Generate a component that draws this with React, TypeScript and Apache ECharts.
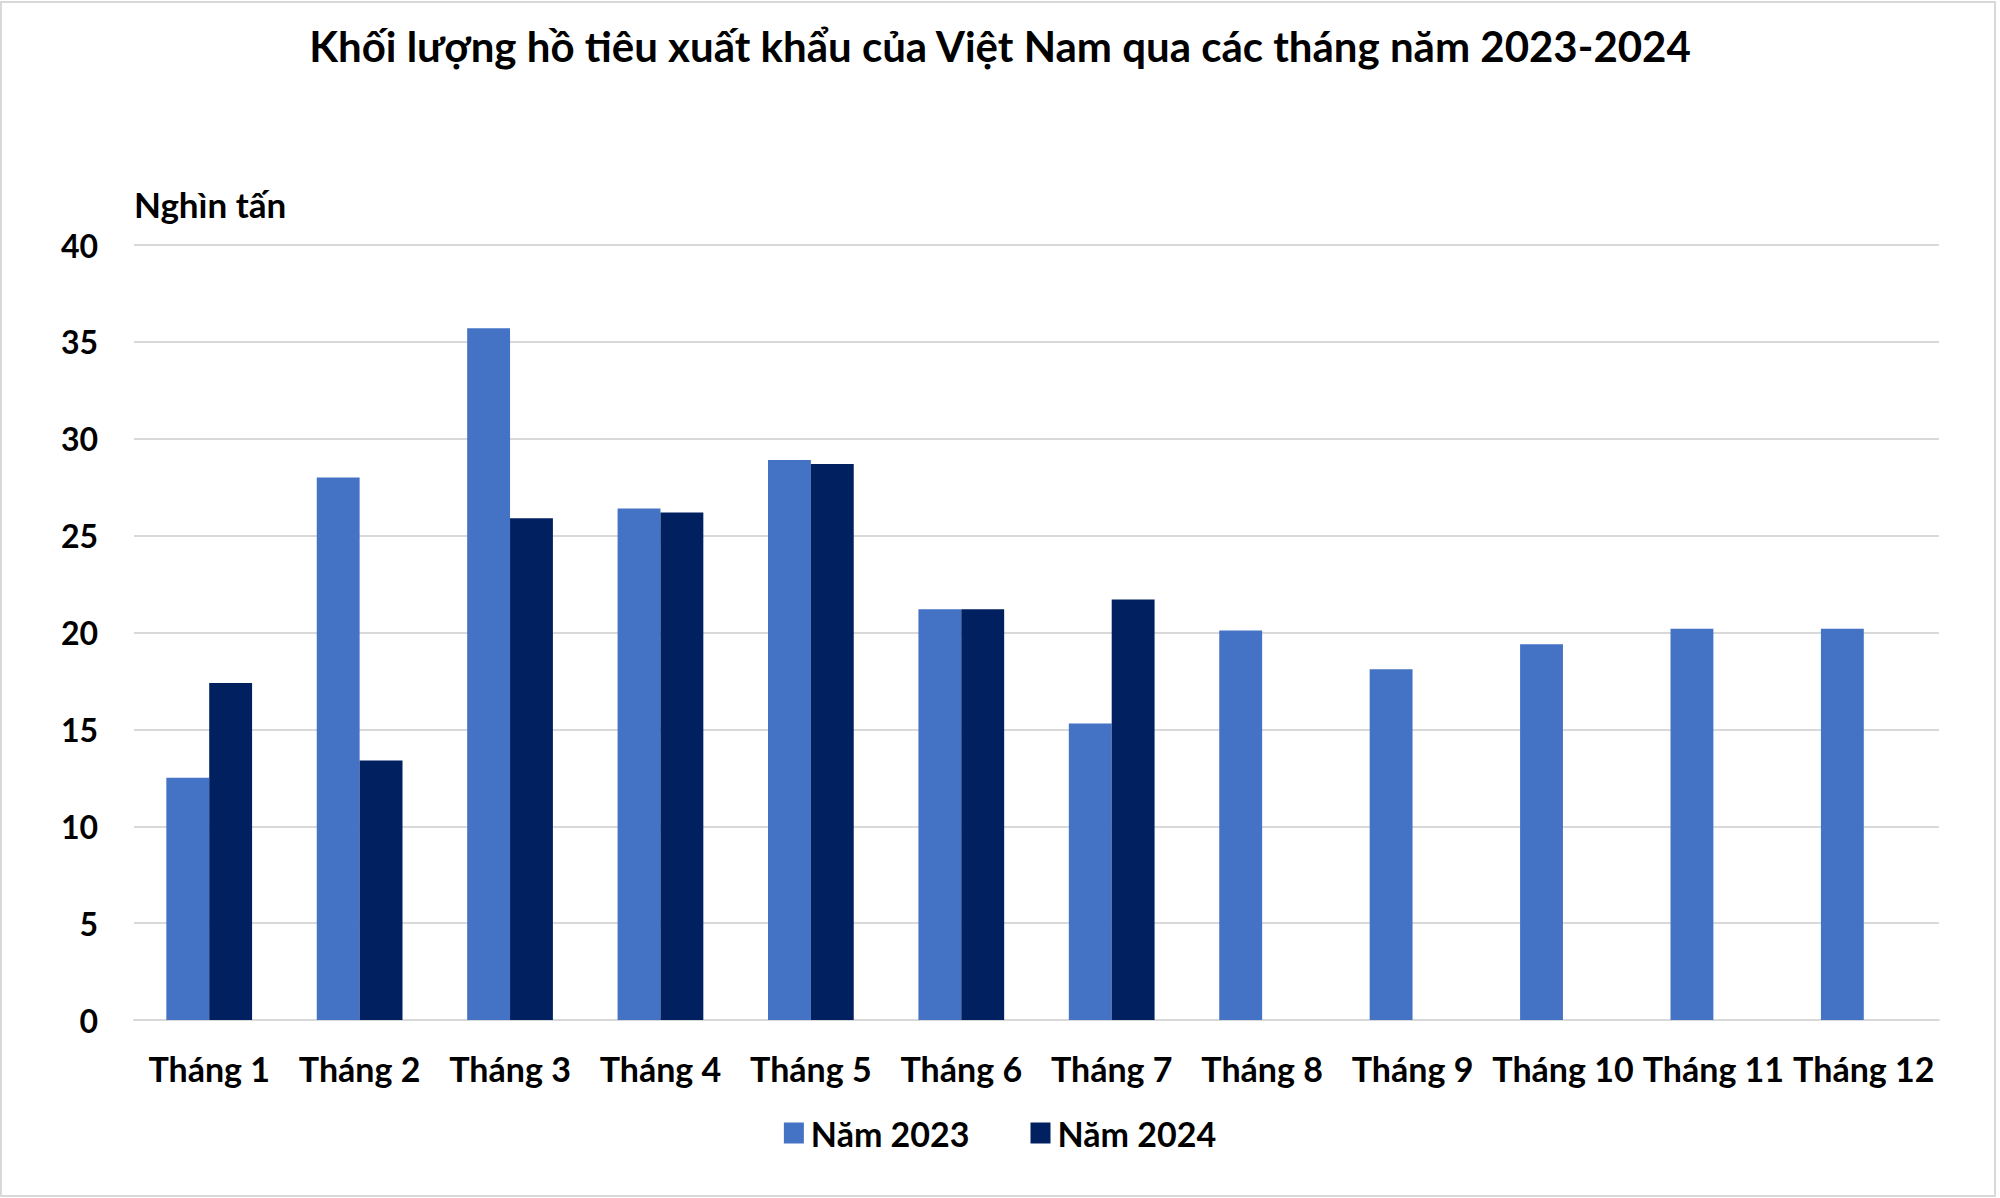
import React, { useEffect, useRef } from "react";
import * as echarts from "echarts";

const categories = ["Tháng 1", "Tháng 2", "Tháng 3", "Tháng 4", "Tháng 5", "Tháng 6", "Tháng 7", "Tháng 8", "Tháng 9", "Tháng 10", "Tháng 11", "Tháng 12"];
const values2023 = [12.5, 28.0, 35.7, 26.4, 28.9, 21.2, 15.3, 20.1, 18.1, 19.4, 20.2, 20.2];
const values2024: (number | null)[] = [17.4, 13.4, 25.9, 26.2, 28.7, 21.2, 21.7, null, null, null, null, null];
const seriesNames = ["Năm 2023", "Năm 2024"];
const titleText = "Khối lượng hồ tiêu xuất khẩu của Việt Nam qua các tháng năm 2023-2024";
const unitText = "Nghìn tấn";

const FONT = "Lato";

export default function App() {
  const ref = useRef<HTMLDivElement>(null);
  useEffect(() => {
    document.body.style.margin = "0";
    if (!ref.current) return;
    const chart = echarts.init(ref.current, undefined, { renderer: "svg" });
    chart.setOption({
      animation: false,
      backgroundColor: "#ffffff",
      textStyle: { fontFamily: FONT },
      title: {
        text: titleText,
        left: "center",
        top: 20,
        textStyle: { fontFamily: FONT, fontWeight: "bold", fontSize: 42, color: "#000" },
      },
      graphic: [
        {
          type: "rect",
          shape: { x: 1, y: 2, width: 1994, height: 1194 },
          style: { fill: "none", stroke: "#D9D9D9", lineWidth: 2 },
          silent: true,
        },
      ],
      legend: {
        data: seriesNames,
        left: "center",
        top: 1111,
        icon: "rect",
        itemWidth: 20,
        itemHeight: 21,
        itemGap: 61,
        textStyle: { fontFamily: FONT, fontWeight: "bold", fontSize: 34, color: "#000", padding: [0, 0, 0, 2] },
      },
      grid: { left: 134, right: 61, top: 245, bottom: 178, containLabel: false },
      xAxis: {
        type: "category",
        data: categories,
        axisTick: { show: false },
        axisLine: { lineStyle: { color: "#D9D9D9", width: 2 } },
        axisLabel: { interval: 0, margin: 31, fontFamily: FONT, fontWeight: "bold", fontSize: 34, color: "#000" },
      },
      yAxis: {
        type: "value",
        min: 0,
        max: 40,
        interval: 5,
        name: unitText,
        nameLocation: "end",
        nameGap: 24,
        nameTextStyle: { fontFamily: FONT, fontWeight: "bold", fontSize: 35, color: "#000", align: "left", padding: [0, 0, 0, 0] },
        axisLine: { show: false },
        axisTick: { show: false },
        splitLine: { lineStyle: { color: "#D9D9D9", width: 2 } },
        axisLabel: { margin: 36, fontFamily: FONT, fontWeight: "bold", fontSize: 32, color: "#000" },
      },
      series: [
        {
          name: seriesNames[0],
          type: "bar",
          data: values2023,
          barGap: "0%",
          barCategoryGap: "43%",
          itemStyle: { color: "#4472C4" },
        },
        {
          name: seriesNames[1],
          type: "bar",
          data: values2024,
          barGap: "0%",
          barCategoryGap: "43%",
          itemStyle: { color: "#002060" },
        },
      ],
    });
    return () => chart.dispose();
  }, []);
  return <div ref={ref} style={{ position: "absolute", left: 0, top: 0, width: 2000, height: 1198 }} />;
}
